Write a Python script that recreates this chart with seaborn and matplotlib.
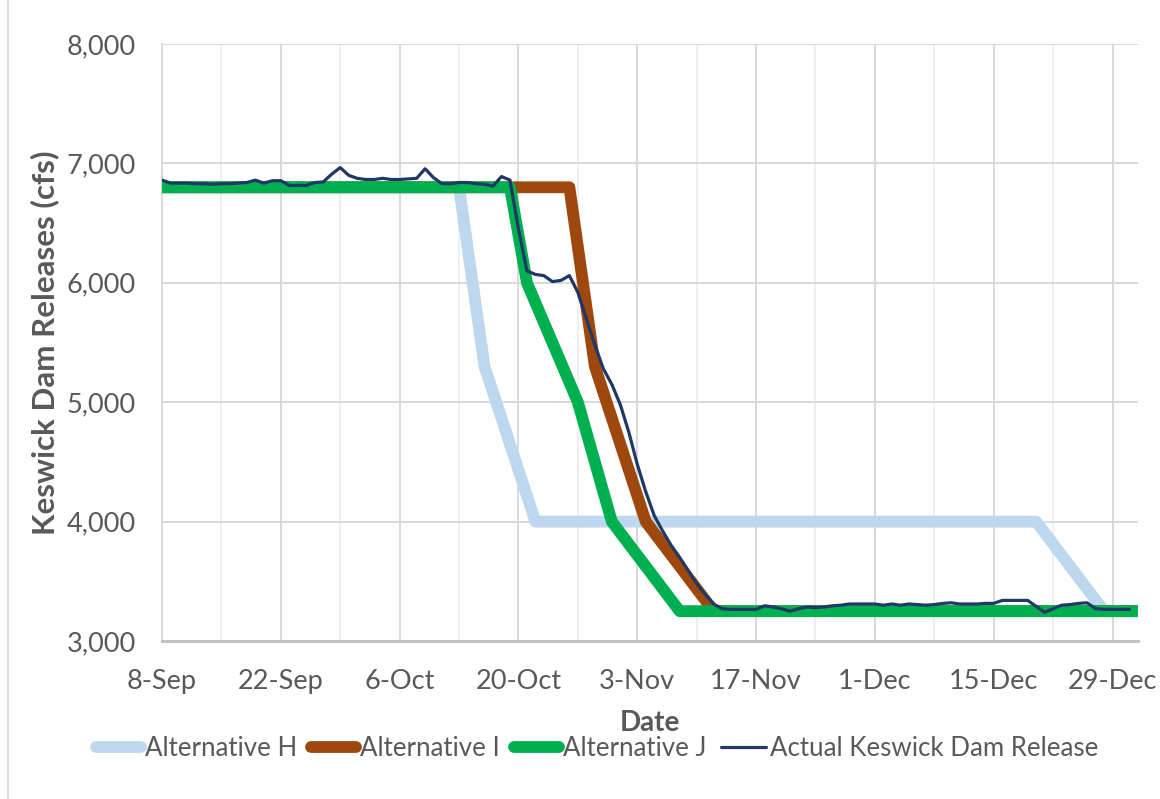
import matplotlib
matplotlib.use("Agg")
import matplotlib.pyplot as plt
from matplotlib.lines import Line2D
import pandas as pd
import seaborn as sns

sns.set_theme(style="white")
plt.rcParams['font.family'] = ['Lato', 'DejaVu Sans']

# Alternative release schedules (breakpoints, cfs)
alt_h_dates = ["2021-09-08", "2021-10-13", "2021-10-16", "2021-10-22",
               "2021-12-20", "2021-12-28", "2022-01-01"]
alt_h_cfs = [6800, 6800, 5300, 4000, 4000, 3250, 3250]

alt_i_dates = ["2021-09-08", "2021-10-26", "2021-10-29", "2021-11-04",
               "2021-11-12", "2022-01-01"]
alt_i_cfs = [6800, 6800, 5300, 4000, 3250, 3250]

alt_j_dates = ["2021-09-08", "2021-10-19", "2021-10-21", "2021-10-27",
               "2021-10-31", "2021-11-08", "2022-01-01"]
alt_j_cfs = [6800, 6800, 6000, 5000, 4000, 3250, 3250]

# Actual daily Keswick Dam release, 8-Sep through 31-Dec (cfs)
actual_start = "2021-09-08"
actual_cfs = [
    6860, 6835, 6835, 6835, 6830, 6830, 6825, 6830, 6830, 6835,
    6840, 6860, 6835, 6855, 6855, 6815, 6815, 6815, 6840, 6845,
    6910, 6965, 6900, 6875, 6865, 6865, 6875, 6865, 6865, 6870,
    6875, 6955, 6880, 6830, 6830, 6840, 6840, 6830, 6825, 6810,
    6890, 6860, 6450, 6100, 6070, 6060, 6010, 6020, 6060, 5920,
    5700, 5480, 5280, 5150, 4980, 4750, 4480, 4250, 4050, 3920,
    3800, 3700, 3590, 3480, 3390, 3310, 3270, 3265, 3265, 3265,
    3265, 3295, 3285, 3270, 3250, 3270, 3285, 3280, 3285, 3295,
    3300, 3310, 3310, 3310, 3310, 3300, 3310, 3300, 3310, 3305,
    3300, 3305, 3315, 3320, 3310, 3310, 3310, 3315, 3315, 3340,
    3340, 3340, 3340, 3290, 3240, 3270, 3300, 3305, 3315, 3320,
    3270, 3265, 3265, 3265, 3265,
]

series_names = ["Alternative H", "Alternative I", "Alternative J",
                "Actual Keswick Dam Release"]
series_colors = ["#BDD7EE", "#9E480E", "#00B050", "#203864"]
series_widths = [8.5, 8.5, 8.5, 2.3]

x_tick_dates = ["2021-09-08", "2021-09-22", "2021-10-06", "2021-10-20",
                "2021-11-03", "2021-11-17", "2021-12-01", "2021-12-15",
                "2021-12-29"]
x_tick_labels = ["8-Sep", "22-Sep", "6-Oct", "20-Oct", "3-Nov", "17-Nov",
                 "1-Dec", "15-Dec", "29-Dec"]
y_ticks = [3000, 4000, 5000, 6000, 7000, 8000]
y_tick_labels = ["3,000", "4,000", "5,000", "6,000", "7,000", "8,000"]

W, H = 1160, 799
fig = plt.figure(figsize=(W / 100, H / 100), dpi=100)
fig.patch.set_facecolor("white")
L, R, T, B = 162, 1138, 44, 641
ax = fig.add_axes([L / W, 1 - B / H, (R - L) / W, (B - T) / H])

actual_dates = pd.date_range(actual_start, periods=len(actual_cfs), freq="D")
series = [
    (pd.to_datetime(alt_h_dates), alt_h_cfs),
    (pd.to_datetime(alt_i_dates), alt_i_cfs),
    (pd.to_datetime(alt_j_dates), alt_j_cfs),
    (actual_dates, actual_cfs),
]
for (xs, ys), color, lw in zip(series, series_colors, series_widths):
    sns.lineplot(x=xs, y=ys, ax=ax, color=color, linewidth=lw,
                 solid_capstyle="round", solid_joinstyle="round",
                 legend=False, zorder=3)

ax.set_xlim(pd.Timestamp("2021-09-08"), pd.Timestamp("2022-01-01"))
ax.set_ylim(3000, 8000)

major = pd.to_datetime(x_tick_dates)
minor = major[:-1] + pd.Timedelta(days=7)
ax.set_xticks(major)
ax.set_xticklabels(x_tick_labels)
ax.set_xticks(minor, minor=True)
ax.set_yticks(y_ticks)
ax.set_yticklabels(y_tick_labels)

ax.grid(False)
ax.xaxis.grid(True, which="major", color="#D9D9D9", linewidth=1.4, zorder=0)
ax.xaxis.grid(True, which="minor", color="#EFEFEF", linewidth=1.4, zorder=0)
ax.yaxis.grid(True, which="major", color="#D9D9D9", linewidth=1.4, zorder=0)
ax.set_axisbelow(True)

for side in ["top", "right"]:
    ax.spines[side].set_visible(False)
ax.spines["left"].set_color("#D9D9D9")
ax.spines["left"].set_linewidth(1.4)
ax.spines["bottom"].set_color("#BFBFBF")
ax.spines["bottom"].set_linewidth(2.0)

ax.tick_params(axis="x", which="both", length=0, pad=20, labelsize=19.5,
               labelcolor="#595959")
ax.tick_params(axis="y", which="both", length=0, pad=19, labelsize=19.5,
               labelcolor="#595959")
ax.set_xlabel("")
ax.set_ylabel("")

fig.text(45 / W, 1 - (T + B) / 2 / H, "Keswick Dam Releases (cfs)",
         rotation=90, ha="center", va="center", fontsize=22.5,
         fontweight="bold", color="#595959")
fig.text((L + R) / 2 / W, 1 - 723 / H, "Date", ha="center", va="center",
         fontsize=20, fontweight="bold", color="#595959")

handles = [Line2D([0], [0], color=c, linewidth=lw, solid_capstyle="round")
           for c, lw in zip(series_colors, series_widths)]
leg = fig.legend(handles, series_names, loc="center",
                 bbox_to_anchor=(597 / W, 1 - 749 / H), ncol=4,
                 frameon=False, fontsize=18.6, handlelength=1.75,
                 handletextpad=0.15, columnspacing=0.55,
                 borderaxespad=0, borderpad=0)
for t in leg.get_texts():
    t.set_color("#595959")

# chart frame edge on the left
fig.add_artist(Line2D([8 / W, 8 / W], [0, 1], transform=fig.transFigure,
                      color="#D9D9D9", linewidth=1.4))

fig.savefig("out.png", dpi=100, facecolor="white")
